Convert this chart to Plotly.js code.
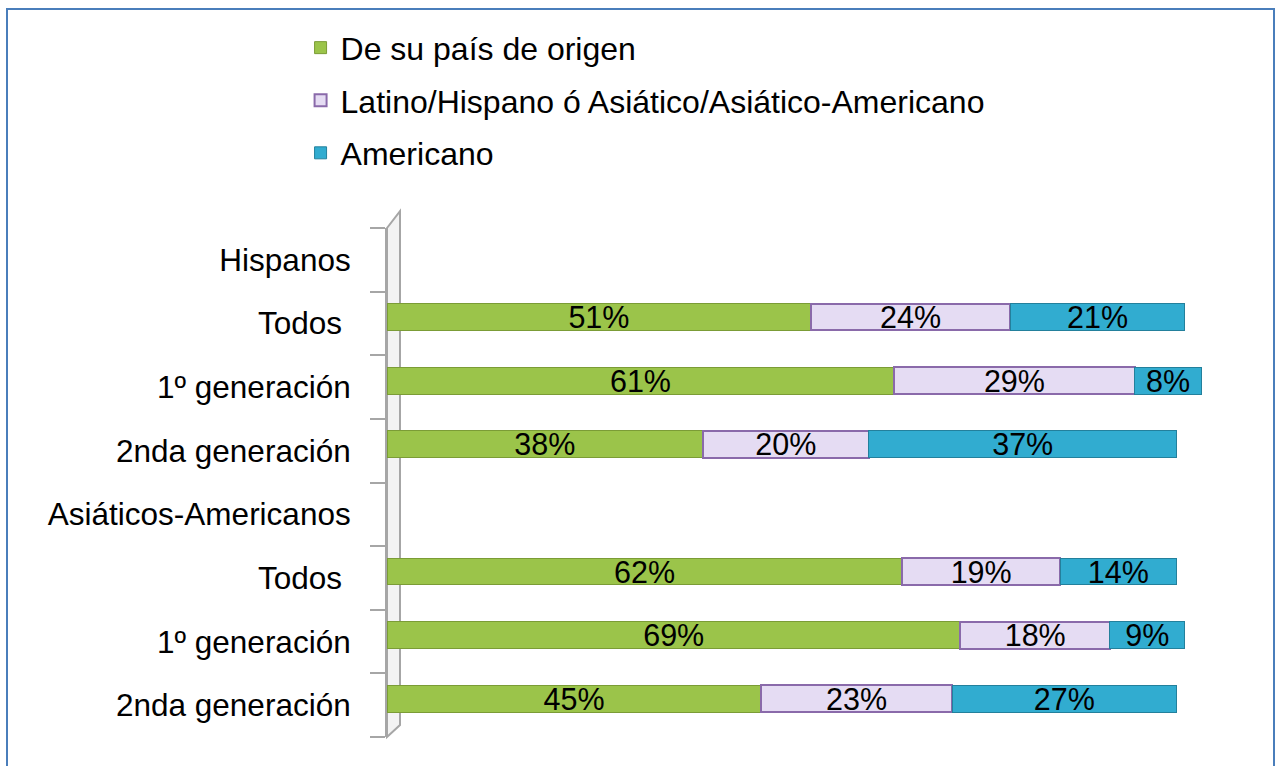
<!DOCTYPE html>
<html>
<head>
<meta charset="utf-8">
<script src="https://cdn.plot.ly/plotly-3.0.1.min.js"></script>
<style>
  html, body { margin: 0; padding: 0; background: #fff; overflow: hidden; }
  #chart { width: 1283px; height: 766px; }
  #frame { position: absolute; left: 6px; top: 8px; width: 1269px; height: 800px;
           border: 2px solid #4a7ebb; pointer-events: none; box-sizing: border-box; }
</style>
</head>
<body>
<div id="chart"></div>
<div id="frame"></div>
<script>
// ---- data ----
const rowLabels = ["Hispanos", "Todos\u00a0", "1º generación", "2nda generación",
                   "Asiáticos-Americanos", "Todos\u00a0", "1º generación", "2nda generación"];
const seriesNames = ["De su país de origen", "Latino/Hispano ó Asiático/Asiático-Americano", "Americano"];
const deSuPais   = [null, 51, 61, 38, null, 62, 69, 45];
const latinoAsia = [null, 24, 29, 20, null, 19, 18, 23];
const americano  = [null, 21,  8, 37, null, 14,  9, 27];

// ---- styles ----
const fills = ["#9bc44a", "#e5dcf3", "#31acd0"];
const edges = ["#7b9c36", "#8a6aaa", "#23809c"];
const edgeW = [1, 2, 1];
const FONT = "Liberation Sans, Arial, sans-serif";

const yIdx = rowLabels.map((_, i) => i);
const valueSets = [deSuPais, latinoAsia, americano];

const traces = valueSets.map((vals, k) => ({
  type: "bar",
  orientation: "h",
  name: seriesNames[k],
  legendgroup: "g" + k,
  y: yIdx,
  x: vals,
  width: 0.42,
  offset: -0.31,
  marker: { color: fills[k], line: { color: edges[k], width: edgeW[k] } },
  text: vals.map(v => v == null ? "" : v + "%"),
  texttemplate: "%{text}",
  textposition: "inside",
  insidetextanchor: "middle",
  constraintext: "none",
  textangle: 0,
  textfont: { family: FONT, size: 30.5, color: "#000" },
  hoverinfo: "skip",
  cliponaxis: false
}));

// decorative 3D wall beside the category axis (paper coords)
const wdx = 13 / 831, wdy = 16 / 509;
const shapes = [
  { type: "path", xref: "paper", yref: "paper",
    path: `M 0,0 L 0,1 L ${wdx},${1 + wdy * 1.05} L ${wdx},${wdy * 0.75} Z`,
    fillcolor: "rgba(235,235,235,0.6)", line: { color: "#a6a6a6", width: 2 }, layer: "below" }
];

const layout = {
  width: 1283, height: 766,
  margin: { l: 387, r: 65, t: 228, b: 29, pad: 0 },
  paper_bgcolor: "#ffffff",
  plot_bgcolor: "rgba(0,0,0,0)",
  barmode: "stack",
  bargap: 0.58,
  showlegend: true,
  legend: {
    x: -0.104, xanchor: "left", y: 1.408, yanchor: "top",
    traceorder: "grouped", tracegroupgap: 8,
    font: { family: FONT, size: 32, color: "#000" },
    bgcolor: "rgba(0,0,0,0)", itemclick: false, itemdoubleclick: false
  },
  xaxis: { range: [0, 100], visible: false, fixedrange: true },
  yaxis: {
    type: "linear", range: [7.5, -0.5], fixedrange: true,
    tickmode: "array", tickvals: yIdx, ticktext: rowLabels,
    ticks: "", ticklabelstandoff: 28,
    showgrid: false, zeroline: false,
    showline: true, linecolor: "#a6a6a6", linewidth: 2,
    tickfont: { family: FONT, size: 31.5, color: "#000" },
    minor: { tick0: -0.5, dtick: 1, ticks: "outside", ticklen: 15, tickwidth: 2, tickcolor: "#a6a6a6", showgrid: false }
  },
  shapes: shapes,
  font: { family: FONT }
};

Plotly.newPlot("chart", traces, layout, { displayModeBar: false, staticPlot: true });
</script>
</body>
</html>
